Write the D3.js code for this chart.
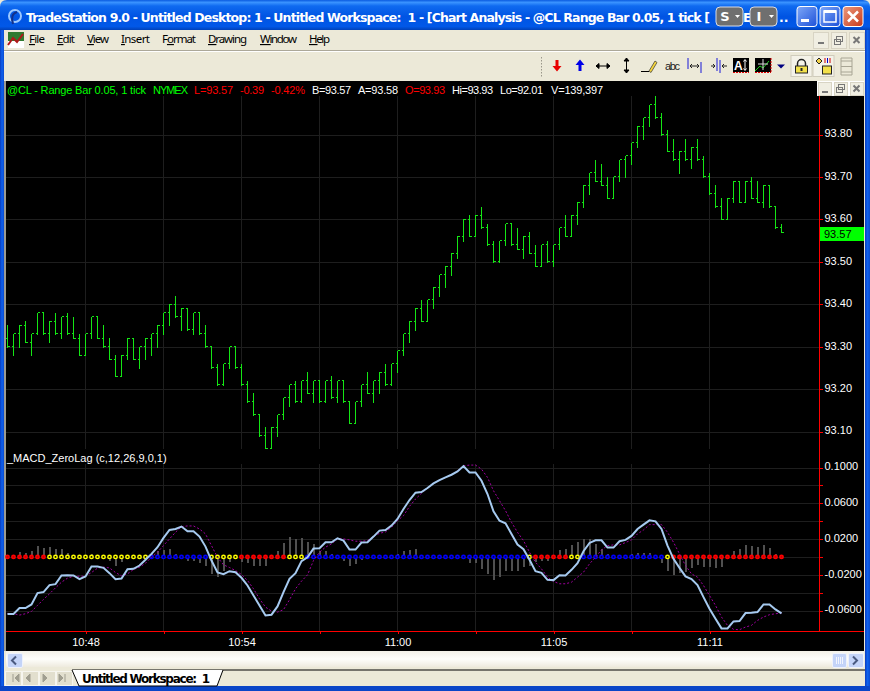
<!DOCTYPE html>
<html>
<head>
<meta charset="utf-8">
<title>@CL Range Bar MACD ZeroLag</title>
<script src="https://cdn.jsdelivr.net/npm/d3@7"></script>
<style>
    html, body { margin: 0; padding: 0; background: #ece9d8; overflow: hidden; }
    svg { display: block; }
    text { white-space: pre; }
</style>
</head>
<body>
<div id="chart"></div>
<script>
// range bars, one entry per bar
var barOpen = [
    93.32,93.30,93.33,93.35,93.31,93.33,93.38,93.33,93.36,93.33,
    93.37,93.33,93.32,93.28,93.33,93.37,93.32,93.30,93.27,93.23,
    93.28,93.32,93.27,93.30,93.32,93.33,93.35,93.38,93.40,93.37,
    93.39,93.34,93.38,93.33,93.30,93.25,93.21,93.26,93.30,93.25,
    93.21,93.17,93.14,93.09,93.06,93.11,93.14,93.18,93.21,93.17,
    93.22,93.19,93.22,93.17,93.22,93.18,93.22,93.17,93.12,93.17,
    93.21,93.19,93.22,93.24,93.21,93.26,93.29,93.33,93.36,93.39,
    93.36,93.41,93.44,93.47,93.49,93.52,93.56,93.60,93.56,93.61,
    93.58,93.54,93.50,93.55,93.59,93.54,93.53,93.56,93.52,93.49,
    93.54,93.50,93.54,93.58,93.56,93.61,93.64,93.68,93.71,93.69,
    93.68,93.65,93.70,93.74,93.75,93.78,93.82,93.84,93.87,93.84,
    93.80,93.76,93.74,93.76,93.74,93.77,93.74,93.70,93.66,93.63,
    93.60,93.65,93.69,93.64,93.69,93.65,93.64,93.68,93.63,93.58];
var barHigh = [
    93.35,93.33,93.35,93.36,93.33,93.38,93.38,93.36,93.38,93.37,
    93.38,93.37,93.33,93.33,93.37,93.37,93.35,93.32,93.28,93.28,
    93.32,93.32,93.30,93.32,93.33,93.35,93.38,93.40,93.42,93.39,
    93.39,93.38,93.38,93.35,93.30,93.26,93.26,93.30,93.30,93.26,
    93.22,93.19,93.14,93.11,93.11,93.14,93.18,93.21,93.22,93.22,
    93.24,93.22,93.22,93.22,93.23,93.22,93.22,93.17,93.17,93.21,
    93.24,93.22,93.24,93.26,93.26,93.29,93.33,93.36,93.39,93.41,
    93.41,93.44,93.47,93.49,93.52,93.56,93.60,93.61,93.61,93.63,
    93.59,93.55,93.55,93.59,93.59,93.58,93.56,93.57,93.54,93.54,
    93.55,93.54,93.58,93.61,93.61,93.64,93.68,93.71,93.74,93.73,
    93.70,93.70,93.74,93.75,93.78,93.82,93.84,93.87,93.89,93.85,
    93.81,93.79,93.76,93.79,93.77,93.79,93.75,93.71,93.68,93.65,
    93.65,93.69,93.69,93.69,93.70,93.69,93.68,93.68,93.63,93.59];
var barLow = [
    93.30,93.28,93.30,93.31,93.28,93.33,93.33,93.31,93.33,93.32,
    93.33,93.32,93.28,93.28,93.32,93.32,93.30,93.27,93.23,93.23,
    93.27,93.27,93.25,93.27,93.28,93.30,93.33,93.35,93.37,93.34,
    93.34,93.33,93.33,93.30,93.25,93.21,93.21,93.25,93.25,93.21,
    93.17,93.14,93.09,93.06,93.06,93.09,93.13,93.16,93.17,93.17,
    93.19,93.17,93.17,93.17,93.18,93.17,93.17,93.12,93.12,93.16,
    93.19,93.17,93.19,93.21,93.21,93.24,93.28,93.31,93.34,93.36,
    93.36,93.39,93.42,93.44,93.47,93.51,93.55,93.56,93.56,93.58,
    93.54,93.50,93.50,93.54,93.54,93.53,93.51,93.52,93.49,93.49,
    93.50,93.49,93.53,93.56,93.56,93.59,93.63,93.66,93.69,93.68,
    93.65,93.65,93.69,93.70,93.73,93.77,93.79,93.82,93.84,93.80,
    93.76,93.74,93.71,93.74,93.72,93.74,93.70,93.66,93.63,93.60,
    93.60,93.64,93.64,93.64,93.65,93.64,93.63,93.63,93.58,93.57];
var barClose = [
    93.30,93.33,93.35,93.31,93.33,93.38,93.33,93.36,93.33,93.37,
    93.33,93.32,93.28,93.33,93.37,93.32,93.30,93.27,93.23,93.28,
    93.32,93.27,93.30,93.32,93.33,93.35,93.38,93.40,93.37,93.39,
    93.34,93.38,93.33,93.30,93.25,93.21,93.26,93.30,93.25,93.21,
    93.17,93.14,93.09,93.06,93.11,93.14,93.18,93.21,93.17,93.22,
    93.19,93.22,93.17,93.22,93.18,93.22,93.17,93.12,93.17,93.21,
    93.19,93.22,93.24,93.21,93.26,93.29,93.33,93.36,93.39,93.36,
    93.41,93.44,93.47,93.49,93.52,93.56,93.60,93.56,93.61,93.58,
    93.54,93.50,93.55,93.59,93.54,93.53,93.56,93.52,93.49,93.54,
    93.50,93.54,93.58,93.56,93.61,93.64,93.68,93.71,93.69,93.68,
    93.65,93.70,93.74,93.75,93.78,93.82,93.84,93.87,93.84,93.80,
    93.76,93.74,93.76,93.74,93.77,93.74,93.70,93.66,93.63,93.60,
    93.65,93.69,93.64,93.69,93.65,93.64,93.68,93.63,93.58,93.57];

// _MACD_ZeroLag plots
var macdLine = [
    -0.0640,-0.0640,-0.0573,-0.0573,-0.0532,-0.0405,-0.0394,-0.0316,-0.0305,-0.0208,
    -0.0205,-0.0208,-0.0249,-0.0219,-0.0108,-0.0108,-0.0123,-0.0182,-0.0249,-0.0242,
    -0.0138,-0.0134,-0.0097,-0.0033,0.0033,0.0108,0.0212,0.0301,0.0312,0.0339,
    0.0286,0.0286,0.0227,0.0115,-0.0041,-0.0175,-0.0193,-0.0160,-0.0171,-0.0234,
    -0.0320,-0.0432,-0.0543,-0.0655,-0.0647,-0.0554,-0.0394,-0.0246,-0.0182,-0.0048,
    -0.0004,0.0093,0.0097,0.0164,0.0164,0.0208,0.0182,0.0082,0.0082,0.0160,
    0.0164,0.0227,0.0294,0.0301,0.0350,0.0424,0.0536,0.0636,0.0718,0.0725,
    0.0770,0.0822,0.0859,0.0889,0.0919,0.0956,0.1016,0.0945,0.0945,0.0852,
    0.0703,0.0510,0.0405,0.0376,0.0257,0.0138,0.0086,-0.0033,-0.0160,-0.0179,
    -0.0257,-0.0260,-0.0205,-0.0208,-0.0145,-0.0071,0.0063,0.0156,0.0186,0.0186,
    0.0104,0.0104,0.0175,0.0190,0.0234,0.0312,0.0361,0.0409,0.0398,0.0312,
    0.0126,-0.0022,-0.0123,-0.0219,-0.0249,-0.0316,-0.0450,-0.0580,-0.0692,-0.0800,
    -0.0800,-0.0722,-0.0718,-0.0629,-0.0625,-0.0618,-0.0532,-0.0532,-0.0588,-0.0632];
var signalLine = [
    -0.0632,-0.0636,-0.0651,-0.0636,-0.0610,-0.0543,-0.0476,-0.0413,-0.0346,-0.0283,
    -0.0238,-0.0219,-0.0216,-0.0216,-0.0175,-0.0126,-0.0115,-0.0123,-0.0175,-0.0212,
    -0.0190,-0.0141,-0.0115,-0.0071,-0.0004,0.0052,0.0126,0.0201,0.0275,0.0339,
    0.0346,0.0346,0.0312,0.0257,0.0126,-0.0004,-0.0089,-0.0119,-0.0153,-0.0197,
    -0.0264,-0.0357,-0.0469,-0.0562,-0.0606,-0.0618,-0.0591,-0.0480,-0.0357,-0.0272,
    -0.0201,-0.0041,0.0052,0.0108,0.0145,0.0201,0.0201,0.0190,0.0175,0.0175,
    0.0182,0.0227,0.0264,0.0279,0.0331,0.0405,0.0461,0.0565,0.0647,0.0711,
    0.0770,0.0822,0.0859,0.0889,0.0919,0.0963,0.1019,0.1027,0.1027,0.0982,
    0.0889,0.0740,0.0629,0.0517,0.0387,0.0275,0.0182,0.0052,-0.0060,-0.0134,
    -0.0227,-0.0275,-0.0301,-0.0301,-0.0283,-0.0227,-0.0171,-0.0078,-0.0004,0.0078,
    0.0126,0.0134,0.0134,0.0160,0.0190,0.0257,0.0301,0.0361,0.0361,0.0361,
    0.0275,0.0164,0.0033,-0.0097,-0.0190,-0.0227,-0.0320,-0.0432,-0.0543,-0.0673,
    -0.0766,-0.0811,-0.0815,-0.0785,-0.0766,-0.0711,-0.0673,-0.0647,-0.0636,-0.0629];
var histValues = [
    0.0011,0.0019,0.0052,0.0041,0.0071,0.0126,0.0100,0.0112,0.0086,0.0093,
    0.0045,0.0022,0.0011,0.0011,0.0033,0.0007,0,-0.0048,-0.0097,-0.0052,
    0.0026,0.0007,0.0022,0.0026,0.0041,0.0071,0.0078,0.0093,0.0033,-0.0011,
    -0.0041,-0.0048,-0.0071,-0.0097,-0.0197,-0.0227,-0.0153,-0.0060,-0.0022,-0.0060,
    -0.0071,-0.0097,-0.0104,-0.0104,-0.0022,0.0071,0.0160,0.0227,0.0201,0.0216,
    0.0167,0.0145,0.0071,0.0071,0.0033,0,-0.0041,-0.0097,-0.0078,-0.0033,
    -0.0011,0,0.0026,0.0007,0.0015,0.0033,0.0071,0.0082,0.0086,0.0026,
    0.0011,0.0004,0,0.0004,0.0004,0,-0.0011,-0.0071,-0.0071,-0.0134,
    -0.0197,-0.0264,-0.0227,-0.0153,-0.0160,-0.0153,-0.0108,-0.0097,-0.0060,-0.0041,
    -0.0041,0,0.0082,0.0093,0.0138,0.0171,0.0197,0.0197,0.0145,0.0086,
    0.0033,0.0019,0.0026,0.0026,0.0033,0.0048,0.0041,0.0048,0.0004,-0.0071,
    -0.0160,-0.0205,-0.0182,-0.0167,-0.0119,-0.0093,-0.0108,-0.0115,-0.0119,-0.0108,
    0.0015,0.0071,0.0086,0.0138,0.0126,0.0115,0.0138,0.0104,0.0033,0.0011];
// zero line dots: 0 red, 1 yellow, 2 blue
var dotState = [
    0,0,0,0,0,0,0,1,1,1,
    1,1,1,1,1,1,1,1,1,1,
    1,1,1,1,2,2,2,2,2,2,
    2,2,2,2,1,1,1,1,1,0,
    0,0,0,0,0,0,0,1,1,1,
    2,2,2,2,2,2,2,2,2,2,
    2,2,2,2,2,2,2,2,2,2,
    2,2,2,2,2,2,2,2,2,2,
    2,2,2,2,2,2,2,1,0,0,
    0,0,0,0,1,1,2,2,2,2,
    2,2,2,2,2,2,2,2,2,2,
    1,0,0,0,0,0,0,0,0,0,
    0,0,0,0,0,0,0,0,0,0];

var priceTicks = [93.80, 93.70, 93.60, 93.50, 93.40, 93.30, 93.20, 93.10];
var macdTicks = [0.10, 0.08, 0.06, 0.04, 0.02, 0, -0.02, -0.04, -0.06];
var macdLabelled = [0.10, 0.06, 0.02, -0.02, -0.06];
var timeGrid = [13, 26, 39, 52, 65, 78, 91, 104, 117];
var timeLabels = { 13: "10:48", 39: "10:54", 65: "11:00", 91: "11:05", 117: "11:11" };
var lastPrice = 93.57;

var quoteParts = [
    { text: "@CL - Range Bar 0.05, 1 tick", x: 7, w: 139, color: "#00ff00" },
    { text: "NYMEX", x: 153, w: 35, color: "#00ff00" },
    { text: "L=93.57", x: 194, w: 39, color: "#ff0000" },
    { text: "-0.39", x: 240, w: 24, color: "#ff0000" },
    { text: "-0.42%", x: 271, w: 34, color: "#ff0000" },
    { text: "B=93.57", x: 312, w: 39, color: "#ffffff" },
    { text: "A=93.58", x: 358, w: 40, color: "#ffffff" },
    { text: "O=93.93", x: 405, w: 40, color: "#ff0000" },
    { text: "Hi=93.93", x: 452, w: 41, color: "#ffffff" },
    { text: "Lo=92.01", x: 500, w: 43, color: "#ffffff" },
    { text: "V=139,397", x: 551, w: 52, color: "#ffffff" }
];
var menuItems = [
    { text: "File", under: "F", x: 29, w: 16 }, { text: "Edit", under: "E", x: 57, w: 18 },
    { text: "View", under: "V", x: 87, w: 22 }, { text: "Insert", under: "I", x: 121, w: 29 },
    { text: "Format", under: "o", x: 162, w: 34 }, { text: "Drawing", under: "D", x: 208, w: 39 },
    { text: "Window", under: "W", x: 260, w: 37 }, { text: "Help", under: "H", x: 309, w: 21 }
];

var chartFont = "'Liberation Sans', Arial, sans-serif";
var uiFont = "'DejaVu Sans', Tahoma, sans-serif";
var menuFont = "'Noto Sans', Tahoma, sans-serif";

var plotLeft = 6, plotRight = 819, screenRight = 864;
var barColor = "#14e614", gridColor = "#1e1e1e", axisColor = "#ff0000";

var svg = d3.select("#chart").append("svg")
    .attr("width", 870)
    .attr("height", 691)
    .attr("viewBox", "0 0 870 691");

var x = d3.scaleLinear().domain([0, 129]).range([7.5, 781.5]);
var yPrice = d3.scaleLinear().domain([93.10, 93.80]).range([431.5, 134.5]);
var yMacd = d3.scaleLinear().domain([-0.06, 0.10]).range([610.5, 467.5]);
var bars = d3.range(barOpen.length);

drawChrome();
drawChart();

function drawChart() {
    svg.append("rect").attr("x", plotLeft).attr("y", 81)
        .attr("width", screenRight - plotLeft).attr("height", 570).attr("fill", "#000");

    // horizontal gridlines
    function hGrid(scale, values) {
        var g = svg.append("g")
            .attr("transform", "translate(" + plotRight + ",0)")
            .attr("shape-rendering", "crispEdges")
            .call(d3.axisLeft(scale).tickValues(values).tickSize(plotRight - plotLeft).tickFormat(""));
        g.select(".domain").remove();
        g.selectAll("line").attr("stroke", gridColor);
    }
    hGrid(yPrice, priceTicks);
    hGrid(yMacd, macdTicks);

    // vertical gridlines, one set per panel
    [[96, 449], [464, 631]].forEach(function (p) {
        svg.append("g").attr("shape-rendering", "crispEdges")
            .selectAll("line").data(timeGrid).enter().append("line")
            .attr("x1", function (d) { return x(d); })
            .attr("x2", function (d) { return x(d); })
            .attr("y1", p[0]).attr("y2", p[1])
            .attr("stroke", gridColor);
    });

    // OHLC range bars
    var barG = svg.append("g").attr("stroke", barColor).attr("shape-rendering", "crispEdges");
    barG.selectAll(".hl").data(bars).enter().append("line")
        .attr("class", "hl")
        .attr("x1", function (i) { return x(i); })
        .attr("x2", function (i) { return x(i); })
        .attr("y1", function (i) { return yPrice(barHigh[i]); })
        .attr("y2", function (i) { return yPrice(barLow[i]) + 1; });
    barG.selectAll(".open").data(bars).enter().append("line")
        .attr("class", "open")
        .attr("x1", function (i) { return x(i) - 2; })
        .attr("x2", function (i) { return x(i); })
        .attr("y1", function (i) { return yPrice(barOpen[i]); })
        .attr("y2", function (i) { return yPrice(barOpen[i]); });
    barG.selectAll(".close").data(bars).enter().append("line")
        .attr("class", "close")
        .attr("x1", function (i) { return x(i); })
        .attr("x2", function (i) { return x(i) + 2; })
        .attr("y1", function (i) { return yPrice(barClose[i]); })
        .attr("y2", function (i) { return yPrice(barClose[i]); });

    // histogram
    svg.append("g").attr("shape-rendering", "crispEdges")
        .selectAll("rect").data(bars).enter().append("rect")
        .attr("x", function (i) { return x(i) - 0.5; })
        .attr("width", 2)
        .attr("y", function (i) { return Math.min(yMacd(0), yMacd(histValues[i])); })
        .attr("height", function (i) { return Math.abs(yMacd(histValues[i]) - yMacd(0)); })
        .attr("fill", "#505050");

    // zero line dots
    var dotColors = ["#ff0000", "#ffff00", "#0000ff"];
    var dotCentres = ["#c00000", "#000000", "#000050"];
    svg.append("g").selectAll("circle").data(bars).enter().append("circle")
        .attr("cx", function (i) { return x(i); })
        .attr("cy", yMacd(0))
        .attr("r", 1.7)
        .attr("stroke-width", 1.5)
        .attr("stroke", function (i) { return dotColors[dotState[i]]; })
        .attr("fill", function (i) { return dotCentres[dotState[i]]; });

    var line = d3.line()
        .x(function (d, i) { return x(i); })
        .y(function (d) { return yMacd(d); });

    svg.append("path").datum(signalLine)
        .attr("d", line).attr("fill", "none")
        .attr("stroke", "#a000a0").attr("stroke-dasharray", "2,2");
    svg.append("path").datum(macdLine)
        .attr("d", line).attr("fill", "none")
        .attr("stroke", "#a6caf0").attr("stroke-width", 2);

    // right hand axes
    function styleAxis(g) {
        g.attr("font-family", chartFont).attr("font-size", 11);
        g.select(".domain").remove();
        g.selectAll("line").attr("stroke", axisColor).attr("shape-rendering", "crispEdges");
        g.selectAll("text").attr("fill", "#fff").attr("x", 5).attr("dy", "0.22em");
    }
    svg.append("line").attr("x1", plotRight + 0.5).attr("x2", plotRight + 0.5)
        .attr("y1", 96).attr("y2", 632).attr("stroke", axisColor).attr("shape-rendering", "crispEdges");
    svg.append("g").attr("transform", "translate(" + (plotRight + 0.5) + ",0)")
        .call(d3.axisRight(yPrice).tickValues(priceTicks).tickSize(3).tickFormat(d3.format(".2f")))
        .call(styleAxis);
    svg.append("g").attr("transform", "translate(" + (plotRight + 0.5) + ",0)")
        .call(d3.axisRight(yMacd).tickValues(macdTicks).tickSize(3)
            .tickFormat(function (d) { return macdLabelled.indexOf(d) >= 0 ? d3.format(".4f")(d).replace("\u2212", "-") : ""; }))
        .call(styleAxis);

    // time axis
    var timeAxis = svg.append("g").attr("transform", "translate(0,631.5)")
        .call(d3.axisBottom(x).tickValues(timeGrid).tickSize(2)
            .tickFormat(function (d) { return timeLabels[d] || ""; }));
    timeAxis.attr("font-family", chartFont).attr("font-size", 11);
    timeAxis.select(".domain").remove();
    timeAxis.selectAll("line").attr("stroke", axisColor).attr("shape-rendering", "crispEdges");
    timeAxis.selectAll("text").attr("fill", "#fff").attr("y", 7);
    svg.append("line").attr("x1", plotLeft).attr("x2", screenRight)
        .attr("y1", 631.5).attr("y2", 631.5).attr("stroke", axisColor).attr("shape-rendering", "crispEdges");

    // last price box
    svg.append("rect").attr("x", plotRight + 1).attr("y", 227)
        .attr("width", screenRight - plotRight - 1).attr("height", 14).attr("fill", "#00ff00");
    svg.append("text").attr("x", 824).attr("y", 238)
        .attr("font-family", chartFont).attr("font-size", 11).attr("fill", "#000")
        .text(d3.format(".2f")(lastPrice));

    // quote line and indicator name
    svg.append("g").attr("font-family", chartFont).attr("font-size", 11)
        .selectAll("text").data(quoteParts).enter().append("text")
        .attr("x", function (d) { return d.x; })
        .attr("y", 94)
        .attr("textLength", function (d) { return d.w; })
        .attr("fill", function (d) { return d.color; })
        .text(function (d) { return d.text; });
    svg.append("text").attr("x", 7).attr("y", 462)
        .attr("font-family", chartFont).attr("font-size", 11).attr("fill", "#fff")
        .text("_MACD_ZeroLag (c,12,26,9,0,1)");

    // small window buttons on the chart
    svg.append("rect").attr("x", 817).attr("y", 81).attr("width", 47).attr("height", 15).attr("fill", "#fff");
    smallButtons(818, 82, 13, 13, 16);
}

// beige Windows buttons: minimise, restore, close
function smallButtons(bx, by, w, h, step) {
    var g = svg.append("g").attr("shape-rendering", "crispEdges");
    [0, 1, 2].forEach(function (k) {
        var left = bx + k * step;
        g.append("rect").attr("x", left).attr("y", by).attr("width", w).attr("height", h)
            .attr("fill", "#f0eee2").attr("stroke", "#d8d4c4");
        var cx = left + w / 2, cy = by + h / 2;
        if (k == 0) {
            g.append("rect").attr("x", cx - 3).attr("y", cy + 2).attr("width", 6).attr("height", 2).attr("fill", "#777");
        } else if (k == 1) {
            g.append("rect").attr("x", cx - 4).attr("y", cy - 1).attr("width", 6).attr("height", 5).attr("fill", "none").attr("stroke", "#777");
            g.append("rect").attr("x", cx - 2).attr("y", cy - 4).attr("width", 6).attr("height", 5).attr("fill", "none").attr("stroke", "#777");
        } else {
            svg.append("path").attr("d", "M" + (cx - 3) + "," + (cy - 3) + "l6,6m0,-6l-6,6")
                .attr("stroke", "#777").attr("stroke-width", 2);
        }
    });
}

function drawChrome() {
    var defs = svg.append("defs");
    var titleGrad = defs.append("linearGradient").attr("id", "titleGrad")
        .attr("x1", 0).attr("x2", 0).attr("y1", 0).attr("y2", 1);
    [[0, "#0a5be0"], [0.08, "#3a93ff"], [0.2, "#0f6af0"], [0.55, "#0054e3"], [0.88, "#0158e8"], [1, "#0041b8"]].forEach(function (s) {
        titleGrad.append("stop").attr("offset", s[0]).attr("stop-color", s[1]);
    });
    var sideGrad = defs.append("linearGradient").attr("id", "sideGrad")
        .attr("x1", 0).attr("x2", 1).attr("y1", 0).attr("y2", 0);
    [[0, "#0a3cc0"], [0.5, "#0f62ee"], [1, "#0a4ad0"]].forEach(function (s) {
        sideGrad.append("stop").attr("offset", s[0]).attr("stop-color", s[1]);
    });
    var scrollGrad = defs.append("linearGradient").attr("id", "scrollGrad")
        .attr("x1", 0).attr("x2", 0).attr("y1", 0).attr("y2", 1);
    [[0, "#f3f1e8"], [0.5, "#fefefb"], [1, "#eeeade"]].forEach(function (s) {
        scrollGrad.append("stop").attr("offset", s[0]).attr("stop-color", s[1]);
    });
    var btnGrad = defs.append("linearGradient").attr("id", "btnGrad")
        .attr("x1", 0).attr("x2", 1).attr("y1", 0).attr("y2", 1);
    [[0, "#7fa8f8"], [1, "#1c50d8"]].forEach(function (s) {
        btnGrad.append("stop").attr("offset", s[0]).attr("stop-color", s[1]);
    });
    var closeGrad = defs.append("linearGradient").attr("id", "closeGrad")
        .attr("x1", 0).attr("x2", 1).attr("y1", 0).attr("y2", 1);
    [[0, "#eb9a7e"], [1, "#c8391a"]].forEach(function (s) {
        closeGrad.append("stop").attr("offset", s[0]).attr("stop-color", s[1]);
    });

    // frame
    svg.append("rect").attr("width", 870).attr("height", 691).attr("fill", "#ece9d8");
    svg.append("path").attr("d", "M0,30V7Q0,0 7,0H863Q870,0 870,7V30Z").attr("fill", "url(#titleGrad)");
    svg.append("rect").attr("x", 0).attr("y", 30).attr("width", 4).attr("height", 661).attr("fill", "url(#sideGrad)");
    svg.append("rect").attr("x", 4).attr("y", 81).attr("width", 2).attr("height", 570).attr("fill", "#9c9a90");
    svg.append("rect").attr("x", 865).attr("y", 30).attr("width", 5).attr("height", 661).attr("fill", "url(#sideGrad)");
    svg.append("rect").attr("x", 0).attr("y", 686).attr("width", 870).attr("height", 5).attr("fill", "#0a46c8");

    // title bar
    svg.append("circle").attr("cx", 15).attr("cy", 16).attr("r", 6).attr("fill", "none")
        .attr("stroke", "#9cc8ff").attr("stroke-width", 2);
    svg.append("path").attr("d", "M13,24Q10,14 17,12").attr("fill", "none").attr("stroke", "#12308a").attr("stroke-width", 2);
    svg.append("text").attr("x", 26).attr("y", 22)
        .attr("font-family", uiFont).attr("font-weight", "bold").attr("font-size", 12.5)
        .attr("fill", "#fff").attr("textLength", 684)
        .text("TradeStation 9.0 - Untitled Desktop: 1 - Untitled Workspace:  1 - [Chart Analysis - @CL Range Bar 0.05, 1 tick [");
    svg.append("text").attr("x", 743).attr("y", 22)
        .attr("font-family", uiFont).attr("font-weight", "bold").attr("font-size", 12.5).attr("fill", "#fff").text("E");
    svg.append("text").attr("x", 779).attr("y", 22)
        .attr("font-family", uiFont).attr("font-weight", "bold").attr("font-size", 12.5).attr("fill", "#fff").text("..");

    // S and I overlay buttons
    [{ label: "S", x: 716 }, { label: "I", x: 750 }].forEach(function (b) {
        svg.append("rect").attr("x", b.x).attr("y", 7).attr("width", 27).attr("height", 19).attr("rx", 4)
            .attr("fill", "#6f6f6f").attr("stroke", "#d8dce4");
        svg.append("text").attr("x", b.x + 9).attr("y", 21).attr("text-anchor", "middle")
            .attr("font-family", uiFont).attr("font-weight", "bold").attr("font-size", 13).attr("fill", "#fff").text(b.label);
        svg.append("path").attr("d", "M" + (b.x + 19) + ",15h5l-2.5,3z").attr("fill", "#fff");
    });

    // window buttons
    [{ x: 797, fill: "url(#btnGrad)" }, { x: 820, fill: "url(#btnGrad)" }, { x: 843, fill: "url(#closeGrad)" }].forEach(function (b) {
        svg.append("rect").attr("x", b.x).attr("y", 6.5).attr("width", 20).attr("height", 20).attr("rx", 3)
            .attr("fill", b.fill).attr("stroke", "#fff");
    });
    svg.append("rect").attr("x", 801).attr("y", 19).attr("width", 8).attr("height", 3).attr("fill", "#fff");
    svg.append("rect").attr("x", 824).attr("y", 11).attr("width", 12).attr("height", 11).attr("fill", "none")
        .attr("stroke", "#fff").attr("stroke-width", 1.5);
    svg.append("rect").attr("x", 824).attr("y", 10).attr("width", 12).attr("height", 3).attr("fill", "#fff");
    svg.append("path").attr("d", "M848,11.5l10,10m0,-10l-10,10").attr("stroke", "#fff").attr("stroke-width", 2.5);

    // menu bar
    svg.append("rect").attr("x", 8).attr("y", 32).attr("width", 16).attr("height", 16).attr("fill", "#fff");
    svg.append("rect").attr("x", 8).attr("y", 32).attr("width", 16).attr("height", 9).attr("fill", "#2f7a2f");
    svg.append("path").attr("d", "M8,45L13,38L17,42L23,34").attr("fill", "none").attr("stroke", "#b01818").attr("stroke-width", 2);
    menuItems.forEach(function (m) {
        var t = svg.append("text").attr("x", m.x).attr("y", 43)
            .attr("font-family", menuFont).attr("font-size", 11.5).attr("fill", "#000")
            .attr("textLength", m.w);
        var k = m.text.indexOf(m.under);
        t.append("tspan").text(m.text.slice(0, k));
        t.append("tspan").attr("text-decoration", "underline").text(m.text.slice(k, k + 1));
        t.append("tspan").text(m.text.slice(k + 1));
    });
    svg.append("rect").attr("x", 4).attr("y", 50).attr("width", 861).attr("height", 1).attr("fill", "#aca899");
    svg.append("rect").attr("x", 4).attr("y", 51).attr("width", 861).attr("height", 1).attr("fill", "#fff");
    smallButtons(813, 32, 15, 16, 18);

    // toolbar
    svg.append("line").attr("x1", 541.5).attr("x2", 541.5).attr("y1", 57).attr("y2", 77)
        .attr("stroke", "#9a978a").attr("stroke-dasharray", "1.5,1.5");
    svg.append("path").attr("d", "M555.5,60h3v6h3l-4.5,5.5l-4.5,-5.5h3z").attr("fill", "#e80000");
    svg.append("path").attr("d", "M578.5,71h3v-6h3l-4.5,-5.5l-4.5,5.5h3z").attr("fill", "#0000e8");
    var black = "#000";
    svg.append("path").attr("d", "M596,66h14").attr("stroke", black);
    svg.append("path").attr("d", "M596,66l3,-2.5v5zM610,66l-3,-2.5v5z").attr("fill", black).attr("stroke", black);
    svg.append("path").attr("d", "M626.5,58v15").attr("stroke", black);
    svg.append("path").attr("d", "M626.5,58l-2.5,3h5zM626.5,73l-2.5,-3h5z").attr("fill", black).attr("stroke", black);
    svg.append("path").attr("d", "M641,71.5h8").attr("stroke", black);
    svg.append("path").attr("d", "M649,71l6,-10l2,1.5l-6,10z").attr("fill", "#f5d53c").attr("stroke", "#333").attr("stroke-width", 0.7);
    svg.append("text").attr("x", 665).attr("y", 70).attr("font-family", chartFont).attr("font-size", 11)
        .attr("textLength", 15).attr("fill", "#222").text("abc");
    svg.append("path").attr("d", "M688,58v11M701,62v11").attr("stroke", "#1818d8");
    svg.append("path").attr("d", "M691,66h7M692,64l-2,2l2,2M697,64l2,2l-2,2").attr("stroke", "#222").attr("fill", "none");
    svg.append("path").attr("d", "M717,58v13M720,60v13").attr("stroke", "#1818d8");
    svg.append("path").attr("d", "M711,66h4M713,64l2,2l-2,2M722,66h5M724,64l-2,2l2,2").attr("stroke", "#222").attr("fill", "none");
    svg.append("rect").attr("x", 733).attr("y", 58).attr("width", 16).attr("height", 14).attr("fill", black);
    svg.append("text").attr("x", 734).attr("y", 70).attr("font-family", chartFont).attr("font-weight", "bold").attr("font-size", 12).attr("fill", "#fff").text("A");
    svg.append("path").attr("d", "M745,60v10M743.5,61.5l1.5,-2l1.5,2M743.5,68.5l1.5,2l1.5,-2").attr("stroke", "#fff").attr("fill", "none");
    svg.append("line").attr("x1", 733).attr("x2", 749).attr("y1", 72.5).attr("y2", 72.5).attr("stroke", "#e00000").attr("stroke-dasharray", "2,1");
    svg.append("rect").attr("x", 755).attr("y", 58).attr("width", 16).attr("height", 14).attr("fill", black);
    svg.append("path").attr("d", "M755,71l5,-5l3,2l6,-7").attr("stroke", "#18d018").attr("fill", "none");
    svg.append("path").attr("d", "M763,59v11M758,64h10").attr("stroke", "#ddd");
    svg.append("path").attr("d", "M755,72.5h16M771,58v14").attr("stroke", "#e00000").attr("stroke-dasharray", "2,1");
    svg.append("path").attr("d", "M777,64.5h8l-4,4z").attr("fill", "#000080");

    // padlock buttons
    [{ x: 791 }, { x: 813 }].forEach(function (b) {
        svg.append("rect").attr("x", b.x).attr("y", 55.5).attr("width", 21).attr("height", 21)
            .attr("fill", "#f4f2e8").attr("stroke", "#d0ccbc");
    });
    svg.append("path").attr("d", "M797.5,66v-2.5a4,4 0 0 1 8,0v2.5").attr("fill", "none").attr("stroke", "#222").attr("stroke-width", 1.5);
    svg.append("rect").attr("x", 795.5).attr("y", 66).attr("width", 12).attr("height", 7).attr("fill", "#f2e04a").attr("stroke", "#222");
    svg.append("rect").attr("x", 800.5).attr("y", 68).attr("width", 2).attr("height", 3).attr("fill", "#222");
    svg.append("rect").attr("x", 822.5).attr("y", 66).attr("width", 9).attr("height", 8).attr("fill", "#f2e04a").attr("stroke", "#222");
    svg.append("path").attr("d", "M816,61l3,-3l3,3l-3,3z").attr("fill", "#f2d24a").attr("stroke", "#222");
    svg.append("path").attr("d", "M825,63v-5M830,63v-5").attr("stroke", "#d00000");
    svg.append("path").attr("d", "M827.5,63v-5").attr("stroke", "#0000d0");
    svg.append("path").attr("d", "M841,61v-3h11v3M841,72v3h11v-3M841,61h11v11h-11zM841,66.5h11").attr("fill", "none").attr("stroke", "#a8a594");

    // horizontal scroll bar
    svg.append("rect").attr("x", 6).attr("y", 651).attr("width", 858).attr("height", 16).attr("fill", "url(#scrollGrad)");
    [{ x: 7, w: 15 }, { x: 832, w: 14 }, { x: 848, w: 15 }].forEach(function (b) {
        svg.append("rect").attr("x", b.x + 0.5).attr("y", 653.5).attr("width", b.w).attr("height", 14).attr("rx", 1.5)
            .attr("fill", "#c4d4f8").attr("stroke", "#eef2fc");
    });
    var chevron = { fill: "none", stroke: "#4a5a80", width: 2 };
    svg.append("path").attr("d", "M16,656.5l-4,4l4,4").attr("fill", chevron.fill).attr("stroke", chevron.stroke).attr("stroke-width", chevron.width);
    svg.append("path").attr("d", "M853,656.5l4,4l-4,4").attr("fill", chevron.fill).attr("stroke", chevron.stroke).attr("stroke-width", chevron.width);
    svg.append("path").attr("d", "M836.5,657v7M838.5,657v7M840.5,657v7M842.5,657v7").attr("stroke", "#f2f5fd");

    // workspace tabs
    svg.append("line").attr("x1", 72).attr("x2", 865).attr("y1", 670).attr("y2", 670).attr("stroke", "#000");
    ["M13,674v8M19,674l-4,4l4,4z", "M30,674l-4,4l4,4z", "M43,674l4,4l-4,4z", "M59,674l4,4l-4,4zM65,674v8"].forEach(function (d, k) {
        svg.append("rect").attr("x", 5.5 + k * 17).attr("y", 671.5).attr("width", 16).attr("height", 14)
            .attr("fill", "#e2dfce").attr("stroke", "#f6f5ee");
        svg.append("path").attr("d", d).attr("fill", "#a09e90").attr("stroke", "#a09e90");
    });
    svg.append("path").attr("d", "M72,670L79,686H217L223,670").attr("fill", "#fff").attr("stroke", "#000");
    svg.append("text").attr("x", 82).attr("y", 683)
        .attr("font-family", uiFont).attr("font-weight", "bold").attr("font-size", 12).attr("fill", "#000")
        .attr("textLength", 128).text("Untitled Workspace:  1");
}
</script>
</body>
</html>
